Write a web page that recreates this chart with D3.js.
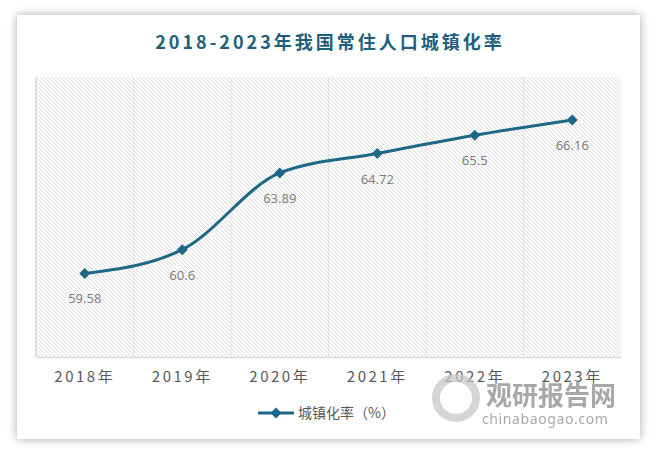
<!DOCTYPE html>
<html>
<head>
<meta charset="utf-8">
<script src="https://cdn.jsdelivr.net/npm/d3@7"></script>
<style>
  body { margin: 0; background: #fff; }
  #chart { width: 658px; height: 455px; }
</style>
</head>
<body>
<div id="chart"></div>
<script>
const years = ['2018年', '2019年', '2020年', '2021年', '2022年', '2023年'];
const rates = [59.58, 60.6, 63.89, 64.72, 65.5, 66.16];
const yDomain = [56, 68];

const W = 658, H = 455;
const margin = { top: 77, left: 36, right: 37, bottom: 98 };
const width = W - margin.left - margin.right;
const height = H - margin.top - margin.bottom;
const lineColor = '#1d6787';

const svg = d3.select('#chart').append('svg')
    .attr('width', W)
    .attr('height', H);

const defs = svg.append('defs');

// card shadow
const shadow = defs.append('filter').attr('id', 'shadow')
    .attr('x', '-10%').attr('y', '-10%').attr('width', '120%').attr('height', '120%');
shadow.append('feGaussianBlur').attr('in', 'SourceAlpha').attr('stdDeviation', 5);
shadow.append('feOffset').attr('dx', 0).attr('dy', 0).attr('result', 'blur');
shadow.append('feComponentTransfer').append('feFuncA').attr('type', 'linear').attr('slope', 0.35);
const merge = shadow.append('feMerge');
merge.append('feMergeNode');
merge.append('feMergeNode').attr('in', 'SourceGraphic');

// hatch pattern for the plot area
const pattern = defs.append('pattern').attr('id', 'hatch')
    .attr('patternUnits', 'userSpaceOnUse')
    .attr('width', 4).attr('height', 4);
pattern.append('rect').attr('width', 4).attr('height', 4).attr('fill', '#fff');
pattern.append('path')
    .attr('d', 'M-1,-1 L5,5 M-1,3 L1,5 M3,-1 L5,1')
    .attr('stroke', '#d2d2d2').attr('stroke-width', 0.8);

svg.append('rect')
    .attr('x', 17).attr('y', 15)
    .attr('width', 623).attr('height', 424)
    .attr('fill', '#fff')
    .attr('filter', 'url(#shadow)');

// title
svg.append('text')
    .attr('x', 330).attr('y', 49)
    .attr('text-anchor', 'middle')
    .style('font-family', '"Noto Sans CJK SC", "Noto Sans", sans-serif')
    .style('font-size', '18px')
    .style('font-weight', 'bold')
    .style('letter-spacing', '3px')
    .style('fill', '#1f5f7e')
    .text('2018-2023年我国常住人口城镇化率');

const chart = svg.append('g')
    .attr('transform', `translate(${margin.left}, ${margin.top})`);

const x = d3.scaleBand().domain(years).range([0, width]);
const y = d3.scaleLinear().domain(yDomain).range([height, 0]);

chart.append('rect')
    .attr('width', width).attr('height', height)
    .attr('fill', 'url(#hatch)');

// vertical gridlines on band boundaries
chart.selectAll('line.grid')
    .data(years.slice(1))
    .enter()
    .append('line')
    .attr('class', 'grid')
    .attr('x1', d => x(d)).attr('x2', d => x(d))
    .attr('y1', 0).attr('y2', height)
    .attr('stroke', '#e3e3e3').attr('stroke-width', 1);

// left axis line
chart.append('line')
    .attr('x1', 0).attr('x2', 0).attr('y1', 0).attr('y2', height)
    .attr('stroke', '#d9d9d9').attr('stroke-width', 1.5);

// x axis
const xAxis = chart.append('g')
    .attr('class', 'x-axis')
    .attr('transform', `translate(0, ${height})`)
    .call(d3.axisBottom(x).tickSize(0).tickPadding(14));
xAxis.select('.domain').attr('stroke', '#d9d9d9').attr('stroke-width', 1.5);
xAxis.selectAll('text')
    .style('font-family', '"Noto Sans CJK SC", "Noto Sans", sans-serif')
    .style('font-size', '15px')
    .style('letter-spacing', '2.5px')
    .style('fill', '#595959');

const cx = d => x(d) + x.bandwidth() / 2;
const points = years.map((d, i) => ({ year: d, value: rates[i] }));

const line = d3.line()
    .x(d => cx(d.year))
    .y(d => y(d.value))
    .curve(d3.curveMonotoneX);

chart.append('path')
    .datum(points)
    .attr('d', line)
    .attr('fill', 'none')
    .attr('stroke', lineColor)
    .attr('stroke-width', 3);

const diamond = d3.symbol().type(d3.symbolSquare).size(60);

chart.selectAll('path.marker')
    .data(points)
    .enter()
    .append('path')
    .attr('class', 'marker')
    .attr('d', diamond)
    .attr('transform', d => `translate(${cx(d.year)}, ${y(d.value)}) rotate(45)`)
    .attr('fill', lineColor);

chart.selectAll('text.value')
    .data(points)
    .enter()
    .append('text')
    .attr('class', 'value')
    .attr('x', d => cx(d.year))
    .attr('y', d => y(d.value) + 30)
    .attr('text-anchor', 'middle')
    .style('font-family', '"Noto Sans", sans-serif')
    .style('font-size', '13px')
    .style('fill', '#7f7f7f')
    .text(d => d.value);

// legend
const legend = svg.append('g').attr('transform', 'translate(258, 413)');
legend.append('line')
    .attr('x1', 0).attr('x2', 36).attr('y1', 0).attr('y2', 0)
    .attr('stroke', lineColor).attr('stroke-width', 3);
legend.append('path')
    .attr('d', diamond)
    .attr('transform', 'translate(18, 0) rotate(45)')
    .attr('fill', lineColor);
legend.append('text')
    .attr('x', 40).attr('y', 5)
    .style('font-family', '"Noto Sans CJK SC", sans-serif')
    .style('font-size', '14px')
    .style('fill', '#595959')
    .text('城镇化率（%）');

// watermark
const wm = svg.append('g').attr('opacity', 0.75);
wm.append('circle')
    .attr('cx', 456).attr('cy', 398).attr('r', 20)
    .attr('fill', 'none').attr('stroke', '#c8c8c8').attr('stroke-width', 8);
wm.append('text')
    .attr('x', 486).attr('y', 405)
    .style('font-family', '"Noto Sans CJK SC", sans-serif')
    .style('font-size', '26px')
    .style('font-weight', 'bold')
    .style('fill', '#8c8c8c')
    .text('观研报告网');
wm.append('text')
    .attr('x', 482).attr('y', 424)
    .style('font-family', '"Noto Sans", sans-serif')
    .style('font-size', '14px')
    .style('letter-spacing', '0.6px')
    .style('fill', '#8c8c8c')
    .text('chinabaogao.com');
</script>
</body>
</html>
